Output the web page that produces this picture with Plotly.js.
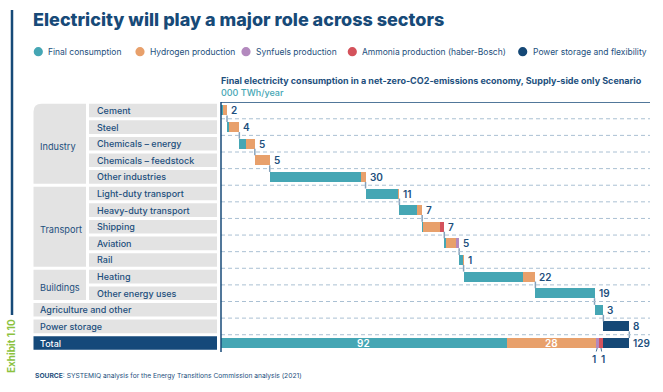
<!DOCTYPE html>
<html><head><meta charset="utf-8">
<script src="https://cdn.plot.ly/plotly-3.0.1.min.js"></script>
<style>html,body{margin:0;padding:0;background:#fff}#chart{width:663px;height:392px}</style>
</head><body><div id="chart"></div>
<script>
// ---------------- data ----------------
const rowLabels = ["Cement","Steel","Chemicals – energy","Chemicals – feedstock","Other industries",
  "Light-duty transport","Heavy-duty transport","Shipping","Aviation","Rail",
  "Heating","Other energy uses","Agriculture and other","Power storage"];
const groupNames = ["Industry","Transport","Buildings"];
const groupFirstRow = [0,5,10];
const groupLastRow = [4,9,11];
const seriesNames = ["Final consumption","Hydrogen production","Synfuels production","Ammonia production (haber-Bosch)","Power storage and flexibility"];
const finalConsumption = [0.7,0.6,2.1,0,29.0,10.2,5.7,0.3,0.4,1.1,18.8,18.7,2.8,0];
const hydrogenProduction = [1.2,3.3,2.8,4.7,1.3,0.5,1.5,5.2,3.4,0.3,3.9,0,0,0];
const synfuelsProduction = [0,0,0,0,0,0,0,0,0.9,0,0,0,0,0];
const ammoniaProduction = [0,0,0,0,0,0,0,1.5,0,0,0,0,0,0];
const powerStorage = [0,0,0,0,0,0,0,0,0,0,0,0,0,8.2];
const rowValueLabels = ["2","4","5","5","30","11","7","7","5","1","22","19","3","8"];
const totalRowLabel = "Total";
const totalComponentLabels = ["92","28","1","1",""];
const totalValueLabel = "129";

// ---------------- styles ----------------
const colors = ["#45a6b4","#e8a06b","#b389be","#d4525b","#154876"];
const navy = "#174a78";
const textBlue = "#1d4f7d";
const gray = "#e3e3e3";
const W = 663, H = 392, ML = 221, MR = 13, MT = 102, MB = 40;
const PW = W - ML - MR, PH = H - MT - MB;
const px2x = p => (p - ML) / PW;
const px2y = p => (H - MB - p) / PH;
const yTop = -0.51, yBot = 14.54;
const barW = 0.6;

const series = [finalConsumption, hydrogenProduction, synfuelsProduction, ammoniaProduction, powerStorage];
const nRows = rowLabels.length;
const totalIdx = nRows;

// bases for waterfall
const bases = series.map(() => []);
const rowEnds = [];
let cum = 0;
for (let i = 0; i < nRows; i++) {
  let b = cum;
  for (let k = 0; k < series.length; k++) { bases[k][i] = b; b += series[k][i]; }
  cum = b; rowEnds.push(cum);
}
const compTotals = series.map(s => s.reduce((a, v) => a + v, 0));
let tb = 0;
const totalBases = compTotals.map(v => { const b = tb; tb += v; return b; });

const traces = series.map((s, k) => ({
  type: "bar", orientation: "h",
  y: [...s.map((_, i) => i), totalIdx],
  x: [...s, compTotals[k]],
  base: [...bases[k], totalBases[k]],
  width: barW, name: seriesNames[k],
  marker: { color: colors[k], line: { width: 0 } },
  showlegend: false, hoverinfo: "skip"
}));

// connectors
const cx = [], cy = [];
for (let i = 0; i < nRows; i++) {
  cx.push(rowEnds[i], rowEnds[i], null);
  cy.push(i + barW / 2, i + 1 - barW / 2, null);
}
traces.push({ type: "scatter", mode: "lines", x: cx, y: cy, line: { color: "#86a2bb", width: 1.5 },
  showlegend: false, hoverinfo: "skip" });

const shapes = [];
const annotations = [];

// dashed row separators
for (let i = 0; i < nRows; i++) {
  shapes.push({ type: "line", xref: "paper", yref: "y", x0: 0, x1: 1, y0: i + 0.5, y1: i + 0.5,
    line: { color: "#aac0d3", width: 1, dash: "4px,3px" } });
}
// axis lines
shapes.push({ type: "line", xref: "paper", yref: "y", x0: 0, x1: 1, y0: yTop, y1: yTop, line: { color: navy, width: 1.5 } });
shapes.push({ type: "line", xref: "paper", yref: "y", x0: 0, x1: 0, y0: yTop, y1: yBot, line: { color: navy, width: 1.5 } });

// table
const boxH = 0.41;
const xG0 = px2x(33.5), xG1 = px2x(86), xS0 = px2x(89), xS1 = px2x(217);
const inGroup = new Array(nRows).fill(false);
groupNames.forEach((g, gi) => {
  const a = groupFirstRow[gi], b = groupLastRow[gi];
  for (let r = a; r <= b; r++) inGroup[r] = true;
  const y0 = a - boxH, y1 = b + boxH;
  if (gi === 0) {
    const rx = 8 / PW, ry = 8 / 16.58;
    shapes.push({ type: "path", xref: "paper", yref: "y", fillcolor: gray, line: { width: 0 },
      path: `M ${xG0},${y1} L ${xG0},${y0 + ry} Q ${xG0},${y0} ${xG0 + rx},${y0} L ${xG1},${y0} L ${xG1},${y1} Z` });
  } else {
    shapes.push({ type: "rect", xref: "paper", yref: "y", x0: xG0, x1: xG1, y0: y0, y1: y1, fillcolor: gray, line: { width: 0 } });
  }
  annotations.push({ xref: "paper", yref: "y", x: px2x(37.5), y: (a + b) / 2 + 0.15, xanchor: "left", yanchor: "middle",
    text: g, showarrow: false, font: { family: "Inter", size: 9.2, color: textBlue } });
});
for (let i = 0; i < nRows; i++) {
  const x0 = inGroup[i] ? xS0 : xG0;
  shapes.push({ type: "rect", xref: "paper", yref: "y", x0: x0, x1: xS1, y0: i - boxH, y1: i + boxH, fillcolor: gray, line: { width: 0 } });
  annotations.push({ xref: "paper", yref: "y", x: inGroup[i] ? px2x(94.5) : px2x(37.5), y: i, xanchor: "left", yanchor: "middle",
    text: rowLabels[i], showarrow: false, font: { family: "Inter", size: 9, color: textBlue, weight: 500 } });
  annotations.push({ xref: "x", yref: "y", x: rowEnds[i], y: i, xanchor: "left", yanchor: "middle", xshift: 2,
    text: rowValueLabels[i], showarrow: false, font: { family: "Inter", size: 10, color: textBlue, weight: 600 } });
}
shapes.push({ type: "rect", xref: "paper", yref: "y", x0: xG0, x1: xS1, y0: totalIdx - boxH, y1: totalIdx + boxH, fillcolor: "#15497a", line: { width: 0 } });
annotations.push({ xref: "paper", yref: "y", x: px2x(37.5), y: totalIdx, xanchor: "left", yanchor: "middle",
  text: totalRowLabel, showarrow: false, font: { family: "Inter", size: 9, color: "#ffffff", weight: 500 } });

// total row labels
totalComponentLabels.forEach((t, k) => {
  if (!t) return;
  const c = totalBases[k] + compTotals[k] / 2;
  if (compTotals[k] > 5) {
    annotations.push({ xref: "x", yref: "y", x: c, y: totalIdx, text: t, showarrow: false,
      font: { family: "Inter", size: 10, color: "#ffffff", weight: 600 } });
  } else {
    annotations.push({ xref: "x", yref: "y", x: c, y: totalIdx + barW / 2, text: t, showarrow: true,
      arrowhead: 0, arrowwidth: 0.8, arrowcolor: textBlue, ax: k === 2 ? -3 : 2, ay: 11, standoff: 0,
      font: { family: "Inter", size: 10, color: textBlue, weight: 600 } });
  }
});
annotations.push({ xref: "x", yref: "y", x: tb, y: totalIdx, xanchor: "left", yanchor: "middle", xshift: 2,
  text: totalValueLabel, showarrow: false, font: { family: "Inter", size: 10, color: textBlue, weight: 600 } });

// chart subtitle + unit
annotations.push({ xref: "paper", yref: "paper", x: px2x(219), y: px2y(81), xanchor: "left", yanchor: "middle",
  text: "Final electricity consumption in a net-zero-CO2-emissions economy, Supply-side only Scenario",
  showarrow: false, font: { family: "Inter", size: 9, color: textBlue, weight: 700 } });
annotations.push({ xref: "paper", yref: "paper", x: px2x(219), y: px2y(92.5), xanchor: "left", yanchor: "middle",
  text: "000 TWh/year", showarrow: false, font: { family: "Inter", size: 9, color: "#45a6b4", weight: 500 } });

// legend
const legCircleX = [38.3, 140, 246, 352.3, 522.7];
seriesNames.forEach((n, k) => {
  const cxp = legCircleX[k], cyp = 51.7, r = 4.6;
  shapes.push({ type: "circle", xref: "paper", yref: "paper", x0: px2x(cxp - r), x1: px2x(cxp + r),
    y0: px2y(cyp + r), y1: px2y(cyp - r), fillcolor: colors[k], line: { width: 0 } });
  annotations.push({ xref: "paper", yref: "paper", x: px2x(cxp + 8), y: px2y(cyp), xanchor: "left", yanchor: "middle",
    text: n, showarrow: false, font: { family: "Inter", size: 8.5, color: textBlue } });
});

// decorations
shapes.push({ type: "line", xref: "paper", yref: "paper", x0: px2x(12), x1: px2x(12), y0: px2y(10), y1: px2y(315), line: { color: navy, width: 2.5 } });
annotations.push({ xref: "paper", yref: "paper", x: px2x(11), y: px2y(346), xanchor: "center", yanchor: "middle",
  text: "Exhibit 1.10", textangle: -90,
  showarrow: false, font: { family: "Inter", size: 10, color: "#8cc23f", weight: 700 } });
annotations.push({ xref: "paper", yref: "paper", x: px2x(33), y: px2y(376), xanchor: "left", yanchor: "middle",
  text: "<b>SOURCE</b>: SYSTEMIQ analysis for the Energy Transitions Commission analysis (2021)",
  showarrow: false, font: { family: "Inter", size: 6.7, color: textBlue } });

const layout = {
  width: W, height: H,
  margin: { l: ML, r: MR, t: MT, b: MB, pad: 0 },
  paper_bgcolor: "#ffffff", plot_bgcolor: "rgba(0,0,0,0)",
  barmode: "overlay", bargap: 0,
  title: { text: "Electricity will play a major role across sectors", x: 33 / W, xanchor: "left", xref: "container",
    y: 1 - 20 / H, yanchor: "middle", yref: "container", font: { family: "Inter", size: 18, color: navy, weight: 800 } },
  xaxis: { range: [0, (650 - ML) / (629 - ML) * 129], visible: false, fixedrange: true },
  yaxis: { range: [yBot, yTop], visible: false, fixedrange: true },
  shapes: shapes, annotations: annotations, showlegend: false
};
Plotly.newPlot("chart", traces, layout, { displayModeBar: false, staticPlot: true });
</script></body></html>
